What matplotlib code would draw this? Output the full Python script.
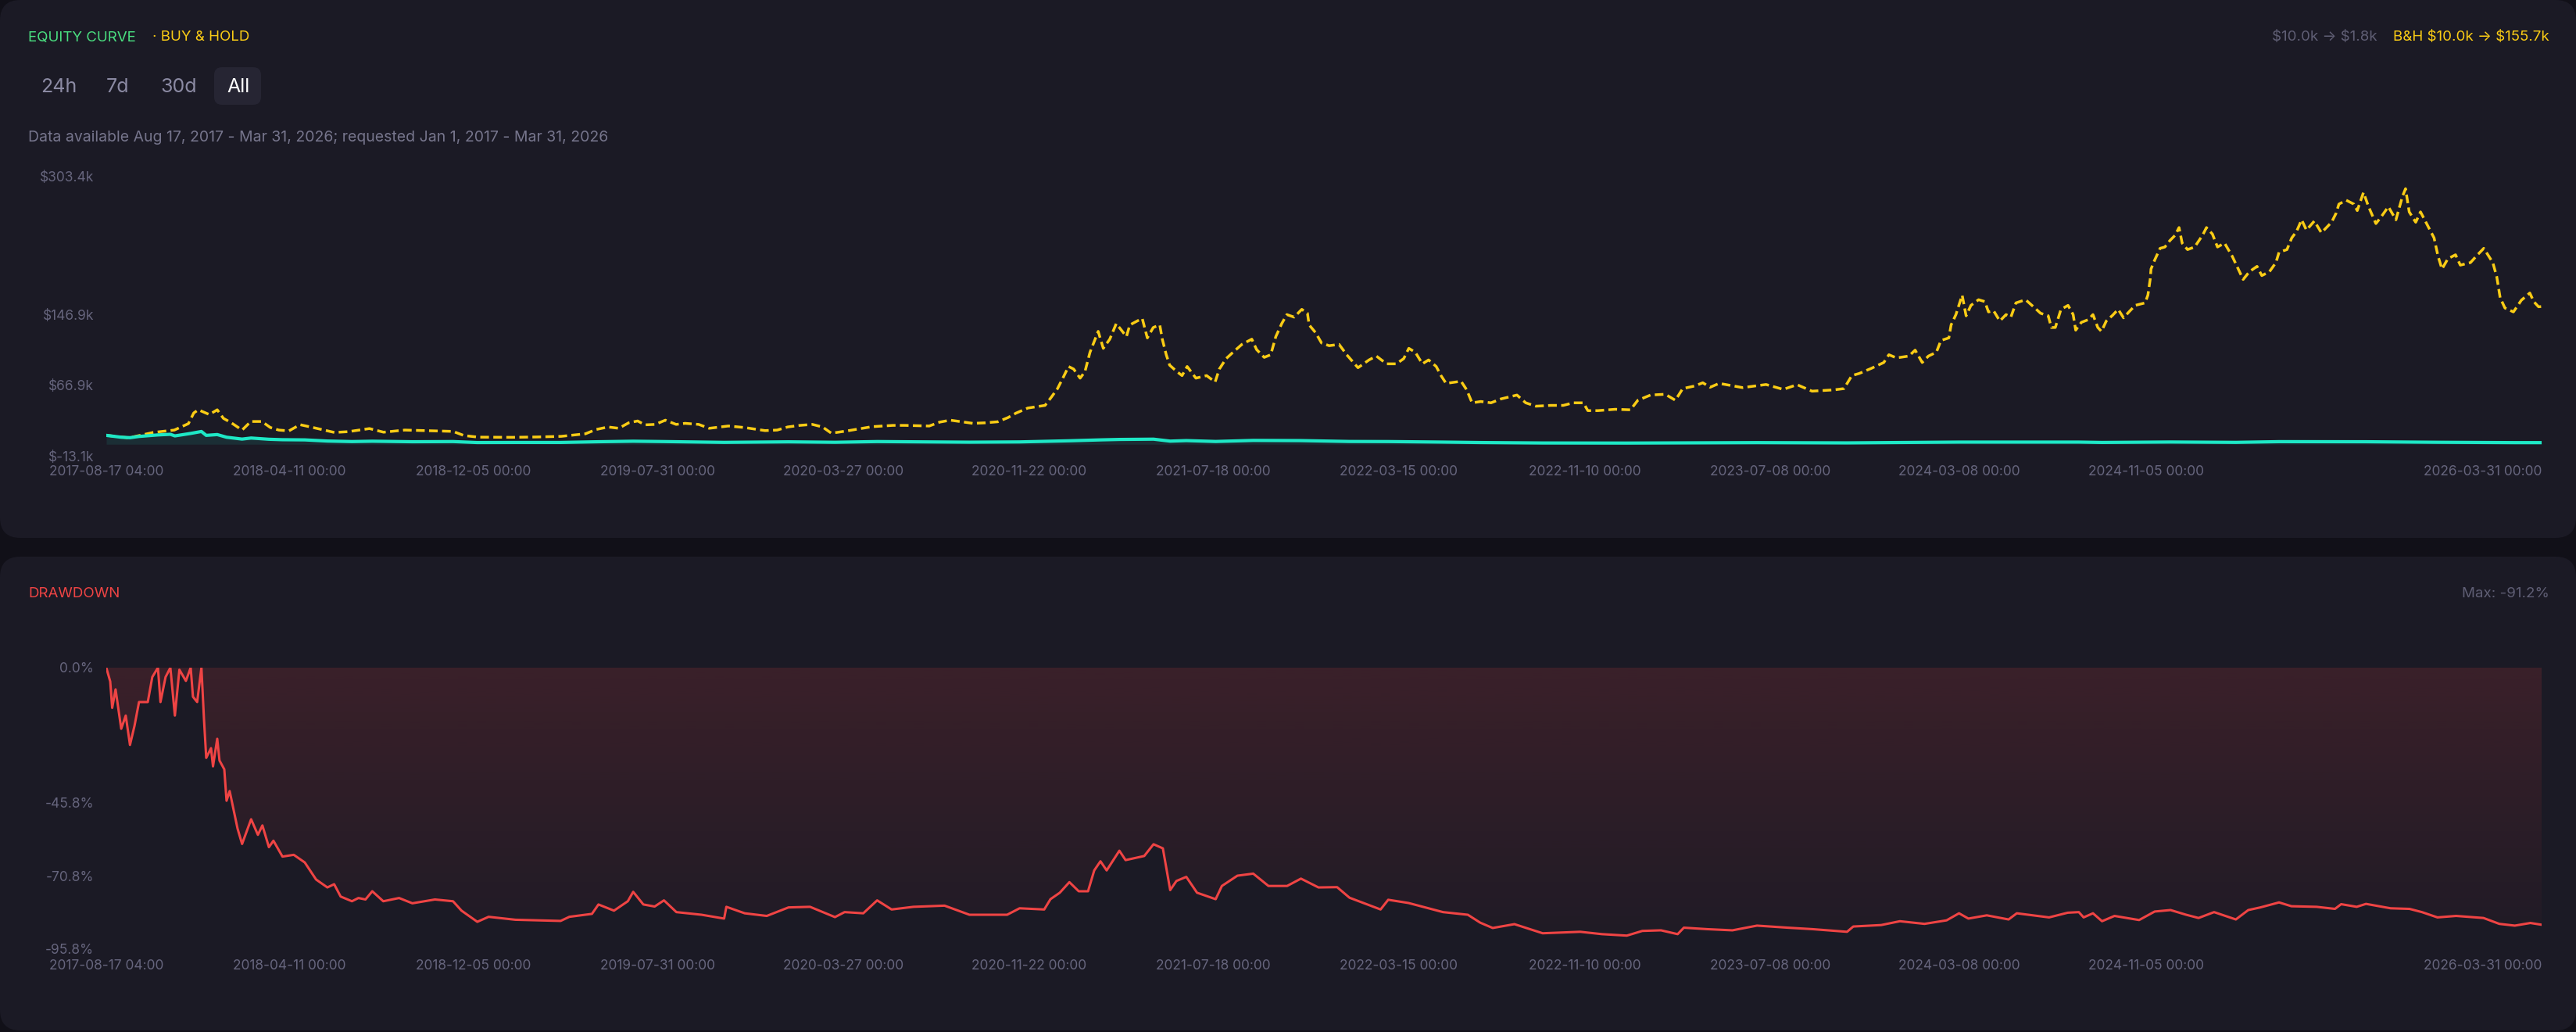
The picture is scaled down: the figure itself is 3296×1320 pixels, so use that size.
import matplotlib
matplotlib.use("Agg")
import matplotlib.pyplot as plt
import matplotlib.dates as mdates
from matplotlib.patches import FancyBboxPatch
import numpy as np
from datetime import datetime

plt.rcParams['font.family'] = ['Inter', 'DejaVu Sans']

# ---------------- data (dates as decimal years) ----------------
bh_years = [2017.6251, 2017.705, 2017.791, 2017.866, 2017.916, 2017.935, 2017.951, 2017.990, 2018.018,
            2018.040, 2018.065, 2018.106, 2018.137, 2018.176, 2018.206, 2018.236, 2018.272, 2018.311,
            2018.361, 2018.433, 2018.482, 2018.557, 2018.607, 2018.682, 2018.853, 2018.892, 2018.942,
            2019.063, 2019.152, 2019.236, 2019.322, 2019.359, 2019.402, 2019.440, 2019.475, 2019.507,
            2019.532, 2019.569, 2019.605, 2019.643, 2019.675, 2019.723, 2019.760, 2019.828, 2019.884,
            2019.958, 2020.001, 2020.038, 2020.081, 2020.125, 2020.161, 2020.192, 2020.217, 2020.254,
            2020.335, 2020.409, 2020.452, 2020.538, 2020.575, 2020.612, 2020.692, 2020.736, 2020.780,
            2020.816, 2020.844, 2020.886, 2020.947, 2020.970, 2020.991, 2021.012, 2021.030, 2021.048,
            2021.071, 2021.088, 2021.106, 2021.135, 2021.153, 2021.176, 2021.199, 2021.217, 2021.235,
            2021.247, 2021.273, 2021.291, 2021.309, 2021.330, 2021.353, 2021.362, 2021.376, 2021.388,
            2021.414, 2021.432, 2021.450, 2021.481, 2021.519, 2021.549, 2021.564, 2021.588, 2021.618,
            2021.644, 2021.679, 2021.696, 2021.723, 2021.746, 2021.764, 2021.785, 2021.803, 2021.829,
            2021.856, 2021.876, 2021.882, 2021.905, 2021.926, 2021.953, 2021.988, 2022.015, 2022.055,
            2022.094, 2022.120, 2022.156, 2022.191, 2022.217, 2022.235, 2022.258, 2022.283, 2022.305,
            2022.332, 2022.349, 2022.367, 2022.420, 2022.440, 2022.459, 2022.490, 2022.526, 2022.561,
            2022.618, 2022.649, 2022.685, 2022.738, 2022.782, 2022.817, 2022.853, 2022.869, 2022.905,
            2022.966, 2023.020, 2023.046, 2023.091, 2023.143, 2023.179, 2023.205, 2023.248, 2023.276,
            2023.302, 2023.334, 2023.417, 2023.500, 2023.561, 2023.610, 2023.663, 2023.742, 2023.776,
            2023.804, 2023.830, 2023.873, 2023.917, 2023.935, 2023.962, 2024.006, 2024.028, 2024.053,
            2024.075, 2024.103, 2024.119, 2024.147, 2024.155, 2024.172, 2024.194, 2024.208, 2024.225,
            2024.252, 2024.274, 2024.287, 2024.305, 2024.327, 2024.349, 2024.366, 2024.384, 2024.418,
            2024.446, 2024.471, 2024.498, 2024.509, 2024.523, 2024.543, 2024.568, 2024.586, 2024.595,
            2024.615, 2024.639, 2024.656, 2024.673, 2024.686, 2024.703, 2024.725, 2024.745, 2024.764,
            2024.783, 2024.805, 2024.840, 2024.850, 2024.858, 2024.861, 2024.874, 2024.893, 2024.910,
            2024.928, 2024.946, 2024.960, 2024.971, 2024.990, 2025.015, 2025.043, 2025.057, 2025.078,
            2025.096, 2025.121, 2025.148, 2025.165, 2025.187, 2025.209, 2025.236, 2025.253, 2025.280,
            2025.303, 2025.314, 2025.342, 2025.359, 2025.376, 2025.394, 2025.411, 2025.439, 2025.464,
            2025.500, 2025.516, 2025.526, 2025.552, 2025.579, 2025.591, 2025.613, 2025.631, 2025.657,
            2025.675, 2025.701, 2025.728, 2025.751, 2025.762, 2025.775, 2025.798, 2025.815, 2025.839,
            2025.863, 2025.877, 2025.891, 2025.912, 2025.939, 2025.956, 2025.992, 2026.017, 2026.039,
            2026.071, 2026.085, 2026.097, 2026.114, 2026.144, 2026.172, 2026.202, 2026.216, 2026.233,
            2026.2438]
bh_values_k = [10.0, 7.2, 13.3, 16.0, 23.3, 35.4, 38.9, 33.6, 38.9,
               29.2, 24.8, 16.0, 25.7, 25.7, 18.9, 16.0, 15.1, 22.1,
               18.6, 13.3, 14.2, 17.7, 13.6, 16.0, 14.5, 9.8, 8.0,
               7.8, 8.2, 8.9, 11.8, 16.6, 19.5, 18.0, 24.2, 26.3,
               21.9, 22.4, 27.2, 22.4, 23.6, 22.4, 18.0, 20.6, 18.9,
               15.4, 16.0, 19.5, 21.3, 22.4, 19.5, 12.5, 13.6, 15.4,
               19.8, 21.3, 21.3, 20.6, 25.0, 27.2, 23.6, 24.2, 25.4,
               30.1, 35.1, 40.9, 43.9, 53.6, 62.9, 76.1, 87.9, 85.0,
               74.7, 82.0, 104.0, 127.6, 108.4, 118.8, 136.4, 129.0, 121.7,
               134.9, 139.3, 142.2, 120.2, 132.0, 134.9, 118.8, 101.2, 89.4,
               82.0, 77.6, 87.9, 74.7, 77.6, 70.3, 85.0, 96.8, 105.6,
               112.9, 118.8, 107.0, 98.2, 101.2, 121.7, 136.4, 146.6, 143.7,
               152.5, 148.1, 134.9, 126.1, 114.4, 111.4, 112.9, 101.2, 86.5,
               95.3, 99.7, 90.9, 90.9, 96.8, 108.4, 104.0, 90.9, 95.3,
               87.9, 77.6, 68.8, 71.2, 61.5, 46.8, 48.3, 46.8, 51.2,
               55.6, 46.8, 43.0, 43.9, 43.9, 46.8, 46.8, 38.0, 38.0,
               39.5, 38.9, 49.7, 55.6, 56.5, 49.7, 62.9, 65.9, 69.5,
               64.4, 68.8, 64.0, 67.5, 62.0, 67.3, 60.0, 61.5, 62.9,
               77.6, 80.0, 85.8, 92.4, 101.2, 97.6, 99.7, 106.4, 92.4,
               99.7, 104.0, 117.3, 120.2, 134.9, 146.6, 168.6, 145.2, 157.0,
               163.4, 161.3, 149.6, 151.0, 139.3, 146.6, 143.7, 159.8, 163.4,
               155.4, 148.1, 145.2, 132.0, 132.0, 152.5, 157.0, 146.6, 129.0,
               137.8, 140.8, 146.6, 132.0, 127.6, 139.3, 145.7, 152.5, 142.9,
               149.6, 157.0, 159.8, 168.6, 186.3, 198.1, 208.3, 221.5, 223.0,
               230.4, 236.2, 245.0, 227.4, 220.1, 223.0, 236.2, 245.0, 237.7,
               223.0, 227.4, 212.7, 201.1, 186.3, 195.1, 201.1, 190.7, 195.1,
               205.4, 217.1, 220.1, 233.3, 240.6, 253.8, 242.1, 252.4, 239.1,
               251.0, 261.2, 271.5, 275.9, 271.5, 264.2, 284.7, 268.6, 249.5,
               256.8, 268.6, 253.8, 280.2, 289.0, 262.7, 251.0, 262.7, 248.0,
               233.3, 212.7, 198.1, 209.8, 214.2, 202.5, 205.4, 214.2, 221.5,
               205.4, 189.3, 165.7, 154.0, 149.6, 162.8, 171.0, 161.3, 155.4,
               155.7]

eq_years = [2017.6251, 2017.678, 2017.709, 2017.741, 2017.808, 2017.852, 2017.868, 2017.924, 2017.962,
            2017.979, 2018.018, 2018.051, 2018.106, 2018.138, 2018.201, 2018.249, 2018.328, 2018.408,
            2018.495, 2018.567, 2018.709, 2018.853, 2018.939, 2019.074, 2019.234, 2019.368, 2019.491,
            2019.599, 2019.813, 2020.041, 2020.205, 2020.354, 2020.680, 2020.857, 2021.033, 2021.143,
            2021.210, 2021.331, 2021.390, 2021.447, 2021.551, 2021.684, 2021.853, 2022.025, 2022.162,
            2022.356, 2022.488, 2022.709, 2023.007, 2023.468, 2023.787, 2024.183, 2024.606, 2024.688,
            2024.930, 2025.161, 2025.314, 2025.622, 2025.875, 2026.149, 2026.2438]
eq_values_k = [10.0, 7.9, 7.4, 8.8, 10.5, 11.2, 9.4, 12.2, 14.4,
               10.0, 10.9, 7.9, 5.8, 7.0, 5.6, 5.1, 4.9, 3.6,
               3.0, 3.4, 2.8, 3.0, 1.9, 2.0, 2.0, 2.8, 3.4,
               3.0, 2.1, 2.7, 2.2, 3.0, 2.3, 2.6, 3.9, 4.9,
               5.4, 5.7, 3.5, 4.1, 3.1, 4.3, 4.1, 3.1, 3.0,
               2.4, 1.9, 1.4, 1.3, 1.8, 1.5, 2.4, 2.4, 2.0,
               2.5, 2.1, 2.9, 2.8, 2.2, 1.8, 1.8]

dd_years = [2017.6251, 2017.639, 2017.646, 2017.658, 2017.678, 2017.694, 2017.709, 2017.725, 2017.741,
            2017.772, 2017.788, 2017.808, 2017.817, 2017.835, 2017.852, 2017.868, 2017.884, 2017.907,
            2017.924, 2017.932, 2017.947, 2017.962, 2017.971, 2017.979, 2017.996, 2018.003, 2018.018,
            2018.026, 2018.043, 2018.051, 2018.062, 2018.074, 2018.090, 2018.106, 2018.138, 2018.162,
            2018.178, 2018.201, 2018.217, 2018.249, 2018.289, 2018.328, 2018.368, 2018.408, 2018.432,
            2018.455, 2018.495, 2018.518, 2018.543, 2018.567, 2018.606, 2018.662, 2018.709, 2018.789,
            2018.853, 2018.883, 2018.939, 2018.979, 2019.074, 2019.234, 2019.265, 2019.345, 2019.368,
            2019.423, 2019.472, 2019.491, 2019.527, 2019.567, 2019.600, 2019.644, 2019.733, 2019.813,
            2019.821, 2019.886, 2019.964, 2020.041, 2020.117, 2020.205, 2020.239, 2020.305, 2020.354,
            2020.405, 2020.482, 2020.592, 2020.680, 2020.813, 2020.857, 2020.944, 2020.966, 2020.999,
            2021.033, 2021.066, 2021.099, 2021.121, 2021.143, 2021.165, 2021.210, 2021.232, 2021.298,
            2021.331, 2021.364, 2021.390, 2021.412, 2021.447, 2021.485, 2021.551, 2021.573, 2021.628,
            2021.684, 2021.738, 2021.804, 2021.853, 2021.915, 2021.981, 2022.025, 2022.135, 2022.162,
            2022.234, 2022.356, 2022.444, 2022.488, 2022.532, 2022.609, 2022.709, 2022.842, 2022.919,
            2023.007, 2023.062, 2023.128, 2023.187, 2023.209, 2023.292, 2023.381, 2023.468, 2023.577,
            2023.665, 2023.787, 2023.809, 2023.908, 2023.974, 2024.061, 2024.139, 2024.183, 2024.216,
            2024.281, 2024.358, 2024.387, 2024.501, 2024.567, 2024.606, 2024.623, 2024.656, 2024.688,
            2024.732, 2024.819, 2024.874, 2024.930, 2024.985, 2025.029, 2025.084, 2025.161, 2025.205,
            2025.248, 2025.314, 2025.358, 2025.447, 2025.512, 2025.534, 2025.589, 2025.622, 2025.709,
            2025.776, 2025.820, 2025.875, 2025.941, 2026.038, 2026.094, 2026.149, 2026.204, 2026.2438]
dd_values_pct = [0.0, -4.7, -13.7, -7.4, -20.8, -16.3, -26.3, -19.8, -11.7,
                 -11.7, -3.2, 0.0, -11.7, -3.2, 0.0, -16.3, -0.7, -4.5,
                 0.0, -9.9, -11.7, 0.0, -17.4, -30.7, -27.4, -33.6, -24.2,
                 -31.6, -34.6, -45.3, -42.0, -47.5, -54.8, -60.0, -51.6, -56.9,
                 -53.7, -61.1, -58.9, -64.3, -63.7, -66.3, -72.1, -74.8, -73.7,
                 -77.9, -79.5, -78.4, -78.9, -76.1, -79.5, -78.4, -80.2, -78.9,
                 -79.5, -82.7, -86.5, -84.8, -85.8, -86.2, -84.8, -83.8, -80.6,
                 -82.7, -79.5, -76.3, -80.6, -81.3, -79.2, -83.2, -84.1, -85.4,
                 -81.4, -83.6, -84.5, -81.6, -81.4, -84.9, -83.2, -83.6, -79.2,
                 -82.3, -81.4, -81.0, -84.1, -84.1, -81.9, -82.3, -78.8, -76.6,
                 -73.0, -76.1, -76.1, -69.0, -65.9, -69.0, -62.3, -65.5, -64.1,
                 -60.1, -61.5, -75.7, -72.6, -71.2, -76.6, -78.8, -74.3, -70.8,
                 -70.1, -74.3, -74.3, -71.8, -74.8, -74.7, -78.3, -82.3, -79.0,
                 -80.1, -83.2, -84.1, -86.8, -88.6, -87.3, -90.4, -89.9, -90.7,
                 -91.2, -89.6, -89.4, -90.7, -88.5, -89.0, -89.4, -87.8, -88.5,
                 -89.0, -89.9, -88.1, -87.6, -86.3, -87.2, -86.0, -83.6, -85.4,
                 -84.3, -85.7, -83.6, -85.0, -83.4, -83.2, -85.0, -83.6, -86.3,
                 -84.5, -85.9, -83.0, -82.5, -84.1, -85.2, -83.2, -85.7, -82.5,
                 -81.6, -79.9, -81.2, -81.4, -82.1, -80.5, -81.4, -80.4, -81.9,
                 -82.1, -83.2, -85.0, -84.5, -85.2, -87.2, -87.8, -86.9, -87.5]

x_tick_labels = ['2017-08-17 04:00', '2018-04-11 00:00', '2018-12-05 00:00', '2019-07-31 00:00',
                 '2020-03-27 00:00', '2020-11-22 00:00', '2021-07-18 00:00', '2022-03-15 00:00',
                 '2022-11-10 00:00', '2023-07-08 00:00', '2024-03-08 00:00', '2024-11-05 00:00',
                 '2026-03-31 00:00']
top_yticks_k = [-13.1, 66.9, 146.9, 303.4]
dd_yticks_pct = [-95.8, -70.8, -45.8, 0.0]

# ---------------- helpers ----------------
def yr2dt(y):
    yr = int(y)
    a = datetime(yr, 1, 1)
    b = datetime(yr + 1, 1, 1)
    return a + (b - a) * (y - yr)

def to_num(years):
    return mdates.date2num([yr2dt(y) for y in years])

x_start = mdates.date2num(datetime(2017, 8, 17, 4, 0))
x_end = mdates.date2num(datetime(2026, 3, 31, 0, 0))
tick_pos = mdates.date2num([datetime.strptime(s, '%Y-%m-%d %H:%M') for s in x_tick_labels])

W, H = 3296, 1320
OUTER = '#111018'
CARD = '#1b1a25'
TICK_C = '#66657d'
GREEN = '#4ade80'
YELLOW = '#facc15'
RED = '#ef4444'
CYAN = '#1ee8c6'
MUTED = '#5f5e74'

fig = plt.figure(figsize=(W / 100, H / 100), dpi=100)
fig.patch.set_facecolor(OUTER)

bg = fig.add_axes([0, 0, 1, 1])
bg.set_xlim(0, W)
bg.set_ylim(H, 0)
bg.axis('off')

for (y0, y1) in [(0, 688), (712, 1318)]:
    bg.add_patch(FancyBboxPatch((0, y0), W, y1 - y0,
                                boxstyle='round,pad=0,rounding_size=26',
                                facecolor=CARD, edgecolor='none'))

T = dict(va='center', parse_math=False)
# header texts
bg.text(36, 48, 'EQUITY CURVE', color=GREEN, fontsize=13.5, ha='left', **T)
bg.text(195, 48, '· BUY & HOLD', color=YELLOW, fontsize=13.5, ha='left', **T)
bg.text(3042, 48, '$10.0k → $1.8k', color=MUTED, fontsize=13.5, ha='right', **T)
bg.text(3262, 48, 'B&H $10.0k → $155.7k', color=YELLOW, fontsize=13.5, ha='right', **T)

bg.add_patch(FancyBboxPatch((274, 86), 60, 48, boxstyle='round,pad=0,rounding_size=10',
                            facecolor='#262533', edgecolor='none'))
for lbl, xx, col in [('24h', 52, '#8b8aa3'), ('7d', 136, '#8b8aa3'),
                     ('30d', 205, '#8b8aa3'), ('All', 290, '#ffffff')]:
    bg.text(xx, 111, lbl, color=col, fontsize=18, ha='left', **T)

bg.text(36, 176, 'Data available Aug 17, 2017 - Mar 31, 2026; requested Jan 1, 2017 - Mar 31, 2026',
        color='#76758c', fontsize=14, ha='left', **T)

bg.text(36, 760, 'DRAWDOWN', color=RED, fontsize=13.5, ha='left', **T)
bg.text(3262, 759, 'Max: -91.2%', color=MUTED, fontsize=13.5, ha='right', **T)

# ---------------- equity axes ----------------
ax1 = fig.add_axes([136 / W, 1 - 583 / H, 3116 / W, 358 / H])
ax1.set_facecolor('none')
eq_x = to_num(eq_years)
bh_x = to_num(bh_years)
ax1.fill_between(eq_x, eq_values_k, 0, color=CYAN, alpha=0.10, lw=0)
ax1.plot(bh_x, bh_values_k, color=YELLOW, lw=2.5, dashes=(3.2, 1.6), solid_capstyle='butt')
ax1.plot(eq_x, eq_values_k, color=CYAN, lw=3.0)
ax1.set_xlim(x_start, x_end)
ax1.set_ylim(top_yticks_k[0], top_yticks_k[-1])
ax1.set_yticks(top_yticks_k)
ax1.set_yticklabels([f'${v:.1f}k' for v in top_yticks_k])

# ---------------- drawdown axes ----------------
ax2 = fig.add_axes([136 / W, 1 - 1214 / H, 3116 / W, 360 / H])
ax2.set_facecolor('none')
dd_x = to_num(dd_years)
poly = ax2.fill_between(dd_x, dd_values_pct, 0, facecolor='none', edgecolor='none', lw=0)
grad = np.zeros((256, 1, 4))
r, g, b = matplotlib.colors.to_rgb(RED)
grad[:, 0, 0] = r
grad[:, 0, 1] = g
grad[:, 0, 2] = b
grad[:, 0, 3] = np.linspace(0.15, 0.02, 256)
im = ax2.imshow(grad, extent=[dd_x[0], dd_x[-1], dd_yticks_pct[0], 0], aspect='auto',
                origin='upper', zorder=1, interpolation='bilinear')
im.set_clip_path(poly.get_paths()[0], transform=ax2.transData)
ax2.plot(dd_x, dd_values_pct, color=RED, lw=2.2, zorder=3)
ax2.set_xlim(x_start, x_end)
ax2.set_ylim(dd_yticks_pct[0], 0)
ax2.set_yticks(dd_yticks_pct)
ax2.set_yticklabels([f'{v:.1f}%' for v in dd_yticks_pct])

for ax in (ax1, ax2):
    for s in ax.spines.values():
        s.set_visible(False)
    ax.set_xticks(tick_pos)
    ax.set_xticklabels(x_tick_labels)
    ax.tick_params(axis='both', length=0, labelsize=12.5, labelcolor=TICK_C)
    ax.tick_params(axis='y', pad=11.5)
    ax.tick_params(axis='x', pad=9)
    ax.grid(False)
    for lab in ax.get_xticklabels() + ax.get_yticklabels():
        lab.set_parse_math(False)
    labs = ax.get_xticklabels()
    labs[-1].set_ha('right')

fig.savefig('out.png', dpi=100, facecolor=fig.get_facecolor())
